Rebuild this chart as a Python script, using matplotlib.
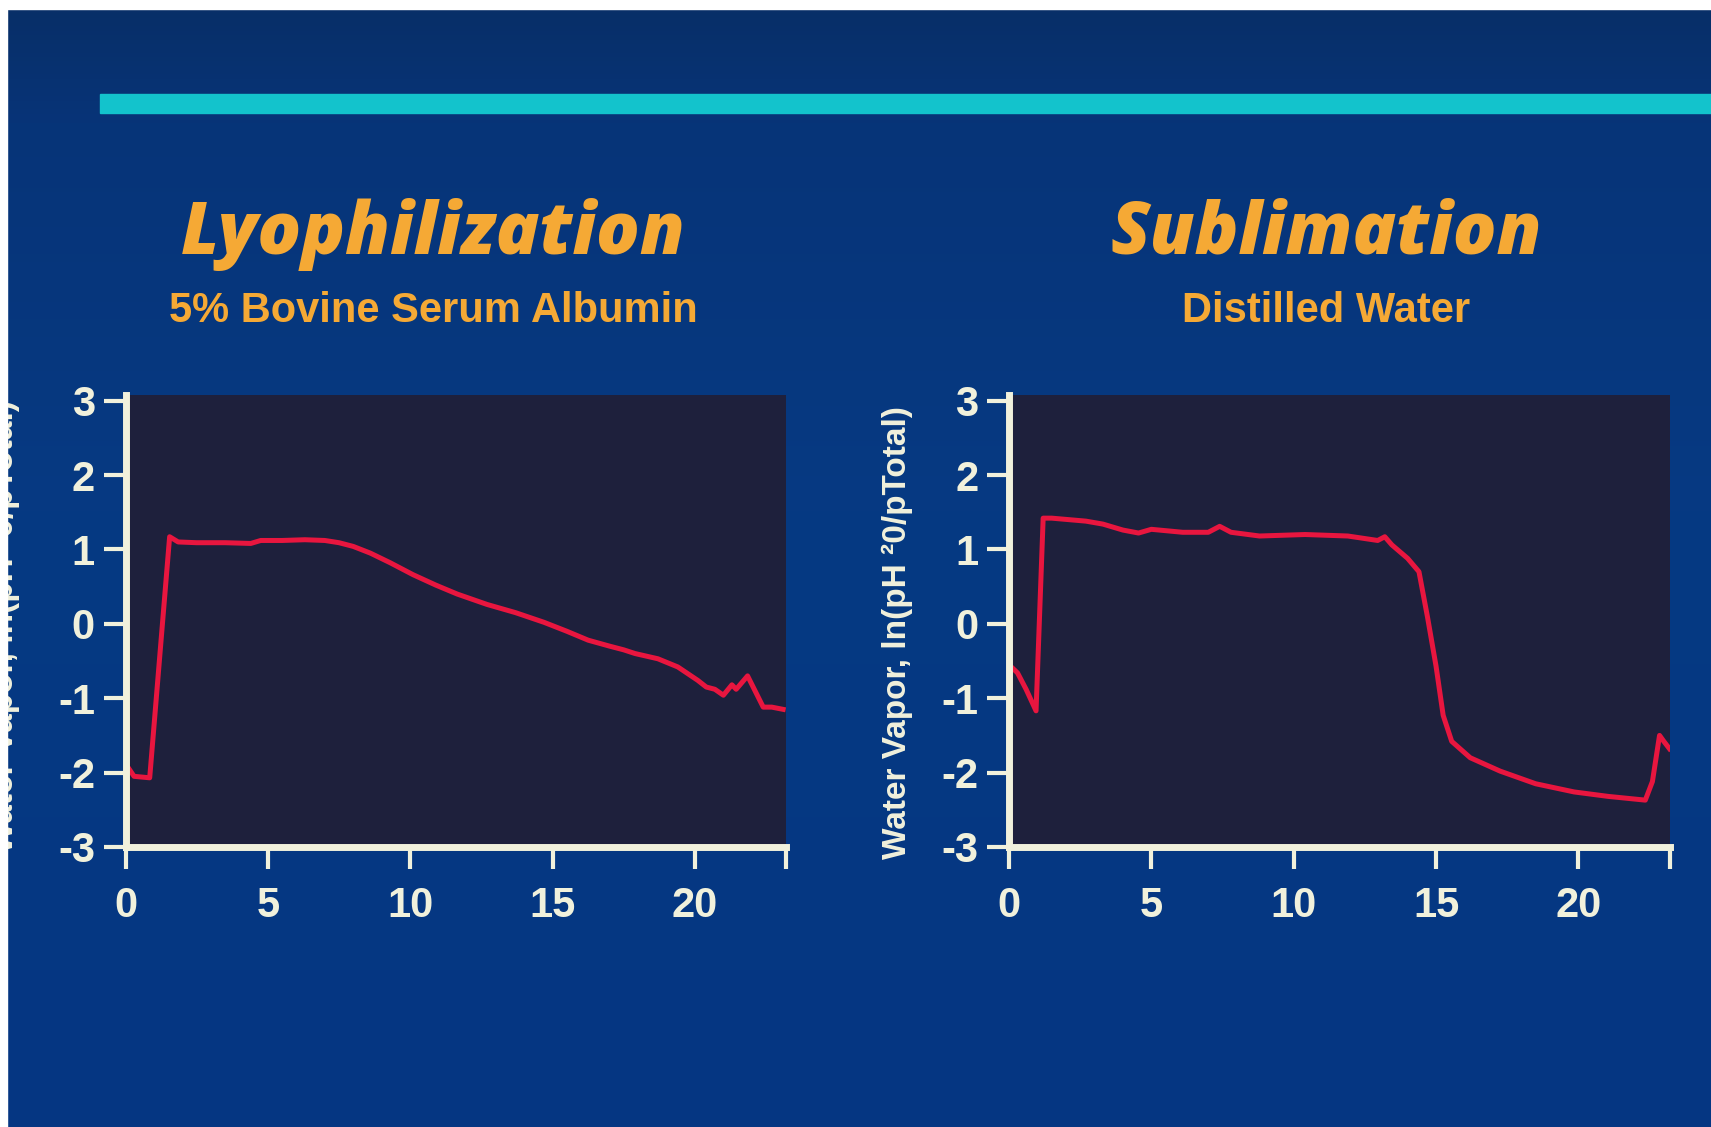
import numpy as np
import matplotlib.pyplot as plt
from matplotlib.patches import Rectangle
from matplotlib.colors import LinearSegmentedColormap

# Lyophilization - 5% bovine serum albumin
lyo_t = [0.0, 0.3, 0.85, 1.55, 1.85, 2.5, 3.5, 4.4, 4.75, 5.5, 6.3, 7.0, 7.5, 8.0,
         8.6, 9.3, 10.1, 10.9, 11.65, 12.7, 13.7, 14.7, 15.5, 16.25, 17.0, 17.5,
         17.9, 18.7, 19.4, 20.1, 20.4, 20.7, 21.0, 21.3, 21.45, 21.85, 22.4, 22.7, 23.1]
lyo_v = [-1.88, -2.05, -2.07, 1.17, 1.10, 1.09, 1.09, 1.08, 1.12, 1.12, 1.13, 1.12,
         1.09, 1.04, 0.95, 0.82, 0.66, 0.52, 0.40, 0.26, 0.15, 0.02, -0.10, -0.22,
         -0.30, -0.35, -0.40, -0.47, -0.58, -0.76, -0.85, -0.88, -0.96, -0.82, -0.88,
         -0.70, -1.12, -1.12, -1.15]

# Sublimation - distilled water
sub_t = [0.0, 0.3, 0.6, 0.95, 1.2, 1.5, 2.7, 3.3, 4.0, 4.55, 5.0, 6.1, 7.0, 7.4, 7.8,
         8.8, 10.4, 11.9, 12.95, 13.2, 13.45, 14.0, 14.4, 14.7, 15.0, 15.25, 15.55,
         16.2, 17.25, 18.5, 19.85, 21.05, 22.35, 22.6, 22.85, 23.0, 23.2]
sub_v = [-0.55, -0.66, -0.88, -1.17, 1.42, 1.42, 1.38, 1.34, 1.26, 1.22, 1.27, 1.23,
         1.23, 1.31, 1.23, 1.18, 1.20, 1.18, 1.12, 1.17, 1.06, 0.88, 0.70, 0.09, -0.57,
         -1.23, -1.58, -1.80, -1.98, -2.15, -2.26, -2.32, -2.37, -2.12, -1.50, -1.58, -1.68]

x_ticks = [0, 5, 10, 15, 20]
y_ticks = [-3, -2, -1, 0, 1, 2, 3]
x_end = 23.2
y_label = 'Water Vapor, ln(pH \u00b20/pTotal)'
titles = ['Lyophilization', 'Sublimation']
subtitles = ['5% Bovine Serum Albumin', 'Distilled Water']

W, H = 1711, 1127
cream = '#f1f1dc'
orange = '#f5a935'
narrow = ['Liberation Sans Narrow', 'Liberation Sans', 'DejaVu Sans']

fig = plt.figure(figsize=(W / 100, H / 100), dpi=100)
fig.patch.set_facecolor('white')

# blue slide background
bg = fig.add_axes([7 / W, 0, 1 - 7 / W, 1 - 9 / H], zorder=-10)
cmap = LinearSegmentedColormap.from_list(
    'slide', [(0, '#082f68'), (0.1, '#073478'), (0.45, '#063a83'), (1, '#053682')])
bg.imshow(np.linspace(0, 1, 256).reshape(-1, 1), aspect='auto', cmap=cmap,
          extent=[0, 1, 0, 1])
bg.axis('off')

# cyan rule
fig.add_artist(Rectangle((100 / W, 1 - 113 / H), 1, 19 / H, transform=fig.transFigure,
                         color='#13c3cc', zorder=2))

px_x = 28.47
px_y = 74.4
ax_w = x_end * px_x / W
ax_h = 6.07 * px_y / H
lefts = [125.5 / W, 1009 / W]
series = [(lyo_t, lyo_v), (sub_t, sub_v)]
centers = [433 / W, 1326 / W]

for i in range(2):
    ax = fig.add_axes([lefts[i], 280 / H, ax_w, ax_h])
    ax.set_facecolor('#1e203c')
    t, v = series[i]
    ax.plot(t, v, color='#e8163f', lw=3.6, solid_joinstyle='round')
    ax.set_xlim(0, x_end)
    ax.set_ylim(-3, 3.07)
    ax.set_xticks(x_ticks + [x_end])
    ax.set_xticklabels([str(x) for x in x_ticks] + [''])
    ax.set_yticks(y_ticks)
    ax.set_yticklabels([str(y) for y in y_ticks])
    for s in ['top', 'right']:
        ax.spines[s].set_visible(False)
    for s in ['left', 'bottom']:
        ax.spines[s].set_color(cream)
        ax.spines[s].set_linewidth(5)
    ax.tick_params(direction='out', length=16, width=3, color=cream, labelcolor=cream)
    ax.tick_params(axis='x', pad=12)
    ax.tick_params(axis='y', pad=6)
    for lab in ax.get_xticklabels() + ax.get_yticklabels():
        lab.set_family(narrow)
        lab.set_fontweight('bold')
        lab.set_fontsize(30)

    fig.text(centers[i], 1 - 254 / H, titles[i], ha='center', va='baseline',
             color=orange, fontsize=52, fontweight='heavy', fontstyle='italic',
             family=['Open Sans', 'Lato', 'DejaVu Sans'])
    fig.text(centers[i], 1 - 322 / H, subtitles[i], ha='center', va='baseline',
             color=orange, fontsize=30, fontweight='bold',
             family=['Liberation Sans', 'DejaVu Sans'])

# y axis labels (the left one runs off the slide edge)
fig.text(897 / W, 1 - 633 / H, y_label, rotation=90, ha='center', va='center',
         color=cream, fontsize=24, fontweight='bold', family=narrow)
fig.text(4 / W, 1 - 627 / H, y_label, rotation=90, ha='center', va='center',
         color=cream, fontsize=24, fontweight='bold', family=narrow)

# white border of the scan
fig.add_artist(Rectangle((0, 0), 7 / W, 1, transform=fig.transFigure,
                         color='white', zorder=20))
fig.add_artist(Rectangle((0, 1 - 9 / H), 1, 9 / H, transform=fig.transFigure,
                         color='white', zorder=20))

fig.savefig('out.png', dpi=100, facecolor=fig.get_facecolor())
